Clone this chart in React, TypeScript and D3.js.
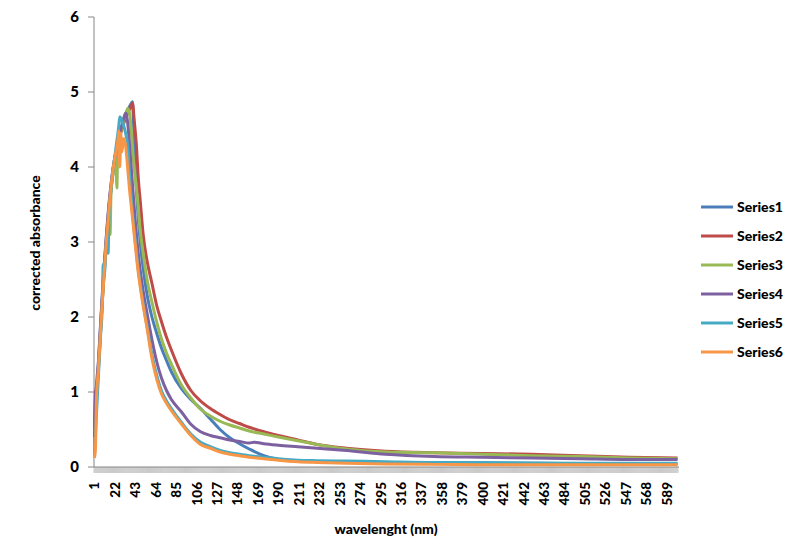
import { useEffect, useRef } from 'react'
import * as d3 from 'd3'

// sampled readings: [category index, corrected absorbance]
const series1: [number, number][] = [
  [1, 0.3], [2, 0.7], [4, 1.15], [6, 1.6], [8, 2.05], [10, 2.45], [12, 2.85], [14, 3.2], [16, 3.5],
  [18, 3.75], [20, 3.97], [22, 4.13], [24, 4.28], [26, 4.4], [28, 4.5], [30, 4.58], [32, 4.65],
  [34, 4.72], [36, 4.78], [38, 4.83], [40, 4.87], [41, 4.62], [43, 3.95], [45, 3.5], [48, 3.0],
  [51, 2.65], [55, 2.3], [60, 2.0], [65, 1.78], [70, 1.58], [75, 1.42], [80, 1.27], [90, 1.05],
  [100, 0.9], [110, 0.78], [120, 0.64], [130, 0.5], [140, 0.39], [150, 0.31], [160, 0.24],
  [175, 0.15], [190, 0.1], [210, 0.08], [230, 0.07], [260, 0.065], [300, 0.06], [350, 0.05],
  [400, 0.05], [450, 0.05], [500, 0.045], [550, 0.04], [600, 0.04],
]
const series2: [number, number][] = [
  [1, 0.5], [2, 1.0], [3, 1.05], [5, 1.3], [7, 1.75], [9, 2.2], [11, 2.6], [13, 2.95], [15, 3.28],
  [17, 3.57], [19, 3.82], [21, 4.0], [23, 4.15], [25, 4.28], [27, 4.4], [29, 4.5], [31, 4.58],
  [33, 4.65], [35, 4.71], [37, 4.77], [39, 4.82], [40, 4.85], [42, 4.6], [44, 4.3], [46, 3.85],
  [48, 3.55], [51, 3.1], [55, 2.75], [60, 2.45], [65, 2.15], [70, 1.93], [75, 1.73], [80, 1.56],
  [90, 1.25], [100, 1.02], [110, 0.88], [120, 0.78], [130, 0.7], [140, 0.63], [150, 0.58],
  [160, 0.53], [175, 0.47], [190, 0.42], [210, 0.36], [230, 0.3], [260, 0.25], [300, 0.21],
  [350, 0.19], [400, 0.18], [450, 0.17], [500, 0.15], [550, 0.13], [600, 0.12],
]
const series3: [number, number][] = [
  [1, 0.2], [2, 0.6], [4, 1.1], [6, 1.55], [8, 2.0], [10, 2.4], [12, 2.8], [14, 3.15], [15, 3.3],
  [16, 3.45], [17, 3.1], [18, 3.65], [20, 3.9], [22, 4.07], [23, 4.15], [24, 3.72], [25, 4.3],
  [27, 4.42], [29, 4.52], [31, 4.62], [33, 4.7], [35, 4.78], [37, 4.72], [39, 4.45], [41, 4.1],
  [43, 3.85], [45, 3.6], [48, 3.15], [51, 2.85], [55, 2.5], [60, 2.2], [65, 1.93], [70, 1.7],
  [75, 1.52], [80, 1.37], [90, 1.1], [100, 0.92], [110, 0.77], [120, 0.68], [130, 0.61],
  [140, 0.56], [150, 0.52], [160, 0.48], [175, 0.44], [190, 0.4], [210, 0.35], [230, 0.3],
  [260, 0.24], [300, 0.2], [350, 0.19], [400, 0.17], [450, 0.15], [500, 0.14], [550, 0.12],
  [600, 0.11],
]
const series4: [number, number][] = [
  [1, 0.4], [2, 0.9], [3, 1.1], [5, 1.4], [7, 1.85], [9, 2.3], [11, 2.7], [13, 3.05], [15, 3.38],
  [17, 3.65], [19, 3.88], [21, 4.06], [23, 4.2], [25, 4.33], [27, 4.45], [29, 4.55], [31, 4.65],
  [33, 4.72], [35, 4.6], [37, 4.3], [39, 3.95], [41, 3.6], [43, 3.27], [45, 2.97], [48, 2.62],
  [51, 2.35], [55, 2.05], [60, 1.7], [65, 1.4], [70, 1.18], [75, 1.02], [80, 0.9], [90, 0.74],
  [100, 0.57], [110, 0.47], [120, 0.42], [130, 0.39], [140, 0.36], [150, 0.34], [160, 0.32],
  [165, 0.33], [175, 0.31], [190, 0.29], [210, 0.27], [230, 0.25], [260, 0.22], [300, 0.17],
  [350, 0.14], [400, 0.13], [450, 0.12], [500, 0.11], [550, 0.1], [600, 0.1],
]
const series5: [number, number][] = [
  [1, 0.15], [3, 0.7], [5, 1.2], [7, 1.7], [9, 2.15], [10, 2.7], [11, 2.55], [13, 2.95], [14, 3.1],
  [15, 2.85], [16, 3.4], [18, 3.7], [20, 3.95], [22, 4.15], [24, 4.35], [26, 4.55], [27, 4.67],
  [29, 4.62], [31, 4.55], [33, 4.45], [35, 4.3], [37, 3.9], [39, 3.55], [41, 3.25], [43, 3.0],
  [45, 2.74], [48, 2.44], [51, 2.18], [55, 1.88], [60, 1.5], [65, 1.22], [70, 1.01], [75, 0.88],
  [80, 0.78], [90, 0.6], [100, 0.44], [110, 0.33], [120, 0.27], [130, 0.22], [140, 0.19],
  [150, 0.17], [160, 0.15], [175, 0.13], [190, 0.11], [210, 0.09], [230, 0.085], [260, 0.08],
  [300, 0.07], [350, 0.06], [400, 0.06], [450, 0.055], [500, 0.05], [550, 0.05], [600, 0.05],
]
const series6: [number, number][] = [
  [1, 0.12], [2, 0.25], [3, 0.9], [5, 1.3], [7, 1.75], [9, 2.2], [11, 2.6], [13, 2.98], [15, 3.3],
  [17, 3.6], [19, 3.85], [21, 4.05], [23, 4.2], [25, 4.35], [26, 4.48], [27, 4.0], [28, 4.45],
  [29, 4.2], [31, 4.38], [33, 4.28], [35, 4.0], [37, 3.7], [39, 3.45], [41, 3.2], [43, 2.95],
  [45, 2.7], [48, 2.4], [51, 2.15], [55, 1.85], [60, 1.45], [65, 1.17], [70, 0.97], [75, 0.85],
  [80, 0.75], [90, 0.58], [100, 0.42], [110, 0.3], [120, 0.25], [130, 0.2], [140, 0.17],
  [150, 0.15], [160, 0.13], [175, 0.11], [190, 0.09], [210, 0.07], [230, 0.06], [260, 0.05],
  [300, 0.04], [350, 0.035], [400, 0.03], [450, 0.03], [500, 0.03], [550, 0.03], [600, 0.03],
]

const seriesNames = ['Series1', 'Series2', 'Series3', 'Series4', 'Series5', 'Series6']
const seriesColors = ['#4A7EBB', '#BE4B48', '#98B954', '#7D60A0', '#46AAC5', '#F79646']
const allSeries = [series1, series2, series3, series4, series5, series6]

const categoryCount = 600
const xTickLabels = d3.range(1, categoryCount, 21) // 1, 22, 43 ... 589
const yTicks = [0, 1, 2, 3, 4, 5, 6]

const font = "Lato, 'Open Sans', sans-serif"

export default function App() {
  const svgRef = useRef<SVGSVGElement>(null)

  useEffect(() => {
    if (!svgRef.current) return
    const svg = d3.select(svgRef.current)
    svg.selectAll('*').remove()

    const left = 94, right = 678, top = 17, bottom = 467
    const axisColor = '#868686'

    const x = d3.scaleLinear().domain([0.5, categoryCount + 0.5]).range([left, right])
    const y = d3.scaleLinear().domain([0, 6]).range([bottom, top])

    // category tick marks (one per boundary -> dense hatch)
    svg.append('g')
      .selectAll('line')
      .data(d3.range(0, categoryCount + 1))
      .join('line')
      .attr('x1', d => x(d + 0.5))
      .attr('x2', d => x(d + 0.5))
      .attr('y1', bottom)
      .attr('y2', bottom + 6)
      .attr('stroke', '#8a8a8a')
      .attr('stroke-width', 0.45)

    // x axis line
    svg.append('line')
      .attr('x1', left).attr('x2', right + 1)
      .attr('y1', bottom).attr('y2', bottom)
      .attr('stroke', axisColor)

    // y axis
    svg.append('line')
      .attr('x1', left).attr('x2', left)
      .attr('y1', top).attr('y2', bottom)
      .attr('stroke', axisColor)

    const yg = svg.append('g')
    yTicks.forEach(t => {
      yg.append('line')
        .attr('x1', left - 6).attr('x2', left)
        .attr('y1', y(t)).attr('y2', y(t))
        .attr('stroke', axisColor)
      yg.append('text')
        .attr('x', left - 15)
        .attr('y', y(t))
        .attr('dy', '0.36em')
        .attr('text-anchor', 'end')
        .attr('font-family', font)
        .attr('font-weight', 900)
        .attr('font-size', 15)
        .text(t)
    })

    // x labels, rotated
    svg.append('g')
      .selectAll('text')
      .data(xTickLabels)
      .join('text')
      .attr('transform', d => `translate(${x(d)},${bottom + 15}) rotate(-90)`)
      .attr('dy', '0.36em')
      .attr('text-anchor', 'end')
      .attr('font-family', font)
      .attr('font-weight', 900)
      .attr('font-size', 13.5)
      .text(d => d)

    // series lines
    const line = d3.line<[number, number]>()
      .x(d => x(d[0]))
      .y(d => y(d[1]))
      .curve(d3.curveMonotoneX)

    allSeries.forEach((s, i) => {
      svg.append('path')
        .datum(s)
        .attr('fill', 'none')
        .attr('stroke', seriesColors[i])
        .attr('stroke-width', 3)
        .attr('stroke-linejoin', 'round')
        .attr('d', line)
    })

    // axis titles
    svg.append('text')
      .attr('x', 386)
      .attr('y', 534)
      .attr('text-anchor', 'middle')
      .attr('font-family', font)
      .attr('font-weight', 900)
      .attr('font-size', 14)
      .text('wavelenght (nm)')

    svg.append('text')
      .attr('transform', 'translate(35,243) rotate(-90)')
      .attr('dy', '0.35em')
      .attr('text-anchor', 'middle')
      .attr('font-family', font)
      .attr('font-weight', 900)
      .attr('font-size', 14)
      .text('corrected absorbance')

    // legend
    const lg = svg.append('g')
    seriesNames.forEach((name, i) => {
      const ly = 207 + i * 29
      lg.append('line')
        .attr('x1', 701).attr('x2', 733)
        .attr('y1', ly).attr('y2', ly)
        .attr('stroke', seriesColors[i])
        .attr('stroke-width', 3)
      lg.append('text')
        .attr('x', 737)
        .attr('y', ly)
        .attr('dy', '0.35em')
        .attr('font-family', font)
        .attr('font-weight', 900)
        .attr('font-size', 14)
        .text(name)
    })
  }, [])

  return (
    <svg
      ref={svgRef}
      width={800}
      height={559}
      style={{ position: 'absolute', left: 0, top: 0, background: '#fff' }}
    />
  )
}
